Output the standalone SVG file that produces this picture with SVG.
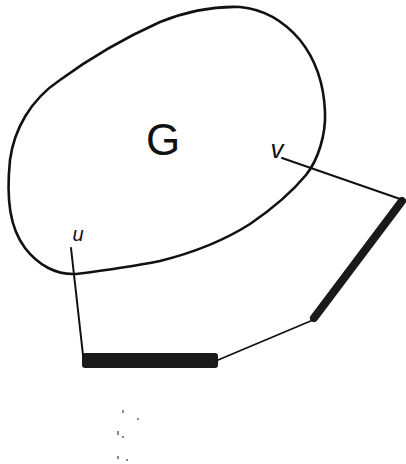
<svg xmlns="http://www.w3.org/2000/svg" width="406" height="464" viewBox="0 0 406 464">
<style>
.ln{fill:none;stroke:#111;stroke-linecap:round;stroke-linejoin:round}
.lbl{font-family:"Liberation Sans",Arial,sans-serif;fill:#111}
.bar{stroke:#1a1a1a;stroke-linecap:round;fill:none}
.sp{fill:#888}
</style>
<rect width="406" height="464" fill="#fff"/>
<g id="G">
<path class="ln" stroke-width="2.6" d="M240,7 C262,9 283,20 300,40 C316,60 324,85 325,112 C326,135 318,160 306,175 C292,192 272,209 250,224 C225,240 196,252 160,261 C130,267 100,271 76,274 C56,275 38,265 25,248 C10,228 6,200 10,160 C14,130 30,100 60,80 C90,58 120,40 160,22 C185,12 210,6 240,7 Z"/>
<text class="lbl" x="163" y="155" font-size="44" text-anchor="middle">G</text>
</g>
<g id="v"><text class="lbl" x="277" y="158" font-size="26" font-style="italic" text-anchor="middle">v</text></g>
<g id="u"><text class="lbl" x="78" y="241" font-size="20" font-style="italic" text-anchor="middle">u</text></g>
<g id="bar-right"><line class="bar" x1="402" y1="201" x2="314" y2="318" stroke-width="8"/></g>
<g id="bar-bottom"><rect x="82" y="353" width="136" height="15" rx="3" fill="#1a1a1a"/></g>
<g id="connectors">
<line class="ln" stroke-width="2" x1="282" y1="158" x2="403" y2="200"/>
<line class="ln" stroke-width="1.8" x1="313" y1="320" x2="218" y2="360"/>
<line class="ln" stroke-width="2" x1="71" y1="248" x2="83" y2="355"/>
</g>
<g id="specks">
<rect class="sp" x="122" y="410" width="2" height="3"/>
<rect class="sp" x="137" y="418" width="2" height="2"/>
<rect class="sp" x="117" y="431" width="2" height="4"/>
<rect class="sp" x="122" y="436" width="2" height="2"/>
<rect class="sp" x="117" y="456" width="2" height="3"/>
<rect class="sp" x="126" y="459" width="2" height="2"/>
</g>
</svg>
